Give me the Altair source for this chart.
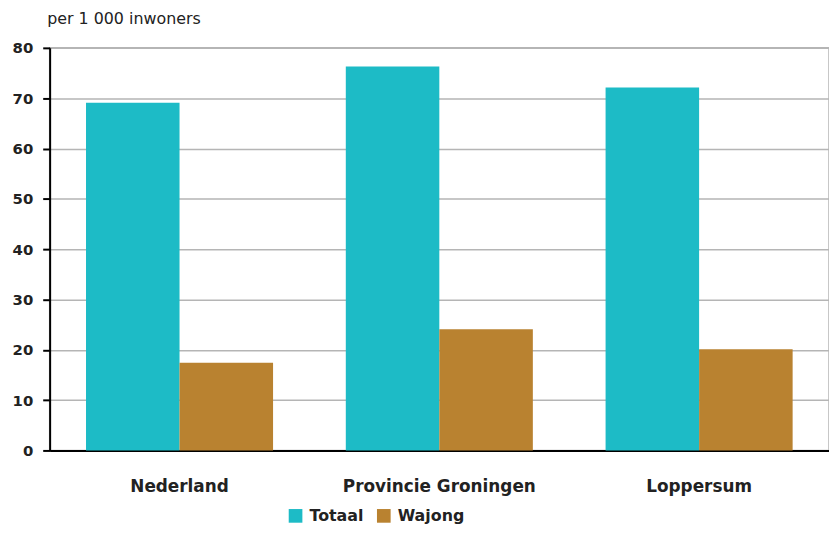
import altair as alt
import pandas as pd

regions = ["Nederland", "Provincie Groningen", "Loppersum"]
series = ["Totaal", "Wajong"]
totaal = [69.1, 76.3, 72.1]
wajong = [17.4, 24.1, 20.1]
colors = ["#1DBBC6", "#B98230"]

rows = []
for r, t, w in zip(regions, totaal, wajong):
    rows.append({"regio": r, "reeks": "Totaal", "waarde": t})
    rows.append({"regio": r, "reeks": "Wajong", "waarde": w})
df = pd.DataFrame(rows)

font = "DejaVu Sans"

chart = alt.Chart(df).mark_bar().encode(
    x=alt.X("regio:N", sort=regions, title=None,
            scale=alt.Scale(paddingInner=0.28, paddingOuter=0.14),
            axis=alt.Axis(labelAngle=0, labelFontSize=17, labelFont=font, labelColor="#222",
                          labelFontWeight="bold", labelLimit=400,
                          labelPadding=28, ticks=False, domainColor="#000", domainWidth=2,
                          grid=False)),
    xOffset=alt.XOffset("reeks:N", sort=series),
    y=alt.Y("waarde:Q", title="per 1 000 inwoners",
            scale=alt.Scale(domain=[0, 80], nice=False),
            axis=alt.Axis(values=[0, 10, 20, 30, 40, 50, 60, 70, 80], labelFontSize=15,
                          labelFontWeight="bold",
                          labelFont=font, labelColor="#222", domainColor="#000", domainWidth=2,
                          tickColor="#000", tickWidth=2, tickSize=7, labelPadding=10,
                          gridColor="#b5b5b5", gridWidth=1.5,
                          titleAngle=0, titleAlign="left", titleBaseline="bottom",
                          titleX=-3, titleY=-22, titleFont=font, titleFontSize=16,
                          titleFontWeight="normal", titleColor="#222")),
    color=alt.Color("reeks:N", sort=series, title=None,
                    scale=alt.Scale(domain=series, range=colors),
                    legend=alt.Legend(orient="none", legendX=240, legendY=464,
                                      direction="horizontal", symbolType="square",
                                      symbolSize=190, symbolStrokeWidth=0,
                                      labelFont=font, labelFontSize=16, labelColor="#222",
                                      labelFontWeight="bold",
                                      columnPadding=12, labelOffset=6)),
).properties(
    width=786, height=406,
    autosize=alt.AutoSizeParams(type="none"),
    padding={"left": 42, "top": 38, "right": 0, "bottom": 73},
).configure_view(stroke="#b5b5b5", strokeWidth=1.5)

chart.save("out.html", embed_options={"renderer": "svg", "actions": False})
